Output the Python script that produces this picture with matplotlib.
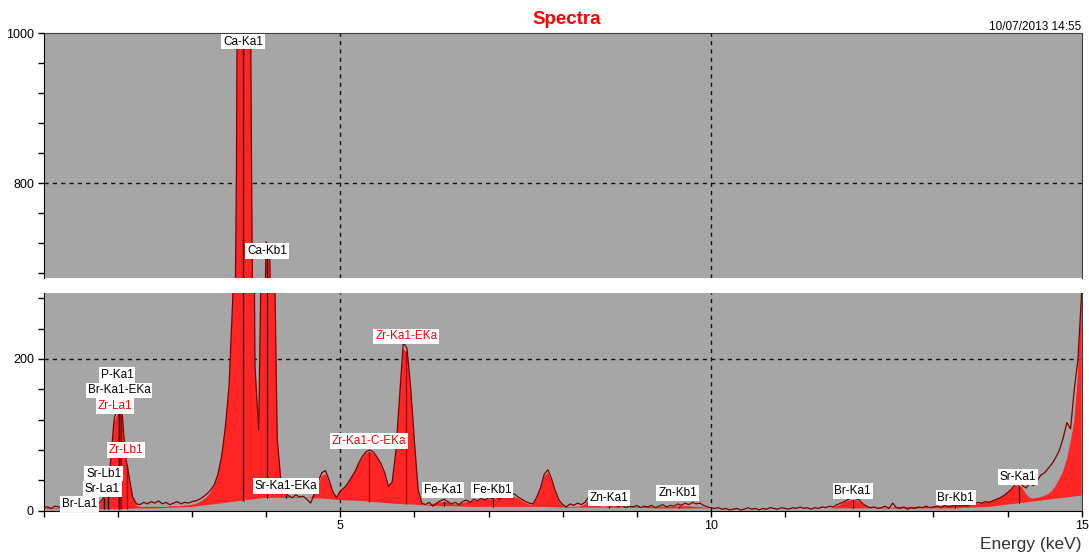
import numpy as np
import matplotlib
matplotlib.use('Agg')
import matplotlib.pyplot as plt
from matplotlib.ticker import MultipleLocator, FixedLocator, NullLocator

plt.rcParams['font.family'] = ['Liberation Sans', 'DejaVu Sans']

# ---------------- data ----------------
energy_start = 1.0     # keV, first channel
energy_step = 0.05     # keV per channel

# measured spectrum (counts), 1.00 .. 15.00 keV
counts = (
    [4, 5, 3, 6, 5, 4, 7, 5, 6, 8, 6, 7, 9, 7, 8, 10, 16, 26, 62, 121] +
    [138, 140, 74, 46, 18, 9, 8, 11, 9, 12, 10, 13, 9, 11, 8, 10, 12, 9, 11, 10] +
    [12, 13, 15, 18, 22, 27, 34, 48, 72, 110, 165, 280, 820, 2000, 2600, 1800, 870, 190, 106, 450] +
    [722, 700, 420, 95, 38, 24, 20, 17, 21, 18, 19, 15, 10, 22, 38, 50, 53, 40, 25, 17] +
    [26, 30, 36, 44, 52, 63, 72, 78, 80, 77, 70, 62, 50, 32, 38, 79, 150, 222, 214, 162] +
    [92, 28, 10, 8, 11, 6, 10, 13, 15, 12, 9, 11, 8, 12, 14, 11, 15, 13, 16, 14] +
    [17, 16, 18, 15, 19, 17, 21, 22, 18, 15, 12, 10, 9, 18, 30, 48, 54, 42, 26, 14] +
    [8, 5, 9, 7, 10, 8, 11, 18, 24, 12, 8, 7, 9, 6, 8, 5, 7, 4, 6, 5] +
    [7, 4, 6, 5, 7, 4, 6, 8, 5, 7, 6, 9, 7, 10, 8, 11, 9, 10, 7, 5] +
    [4, 3, 4, 2, 3, 1, 2, 3, 1, 2, 4, 2, 3, 1, 3, 2, 4, 3, 2, 4] +
    [3, 2, 4, 3, 5, 3, 4, 2, 4, 3, 5, 4, 6, 5, 8, 10, 12, 15, 17, 16] +
    [14, 9, 6, 4, 5, 3, 4, 6, 3, 10, 4, 3, 5, 2, 4, 3, 5, 4, 6, 4] +
    [5, 6, 4, 7, 5, 6, 8, 6, 7, 6, 8, 9, 11, 10, 12, 11, 13, 15, 17, 20] +
    [24, 28, 34, 39, 33, 30, 36, 33, 40, 47, 50, 56, 62, 70, 80, 96, 116, 108, 160, 200] +
    [290]
)

# fitted spectrum (counts), same channels
fit_counts = (
    [3, 3, 3, 3, 3, 3, 4, 4, 5, 5, 4, 4, 4, 4, 5, 7, 15, 24, 58, 116] +
    [129, 127, 72, 44, 17, 7, 5, 5, 5, 5, 5, 5, 5, 5, 6, 6, 6, 6, 7, 7] +
    [8, 9, 11, 14, 18, 24, 32, 46, 70, 108, 160, 275, 800, 2000, 2500, 1800, 860, 190, 108, 440] +
    [705, 695, 410, 95, 36, 22, 19, 18, 18, 18, 17, 17, 17, 22, 34, 46, 48, 38, 24, 19] +
    [24, 30, 36, 44, 52, 62, 70, 76, 78, 75, 69, 60, 48, 34, 38, 76, 146, 214, 208, 158] +
    [88, 26, 9, 7, 8, 9, 10, 11, 12, 11, 9, 8, 9, 10, 11, 12, 13, 13, 14, 14] +
    [15, 15, 16, 16, 17, 17, 18, 18, 16, 13, 10, 8, 8, 16, 28, 45, 50, 40, 24, 12] +
    [6, 5, 5, 5, 5, 6, 8, 14, 16, 9, 6, 5, 6, 6, 6, 5, 5, 5, 5, 5] +
    [5, 5, 5, 5, 5, 5, 5, 5, 5, 5, 5, 6, 6, 6, 6, 5, 5, 5, 4, 4] +
    [3, 3, 3, 3, 3, 3, 3, 3, 3, 3, 3, 3, 3, 3, 3, 3, 3, 3, 3, 3] +
    [3, 3, 3, 3, 3, 3, 3, 3, 3, 3, 3, 3, 3, 4, 6, 8, 11, 13, 14, 14] +
    [12, 8, 5, 4, 3, 4, 4, 4, 4, 4, 5, 5, 5, 5, 5, 5, 5, 5, 5, 5] +
    [5, 6, 6, 6, 7, 7, 7, 7, 7, 7, 7, 8, 9, 10, 11, 12, 13, 15, 17, 20] +
    [24, 28, 32, 34, 30, 22, 17, 16, 17, 18, 20, 22, 26, 33, 42, 52, 68, 90, 118, 180] +
    [290]
)

# background (counts) every 0.25 keV, 1.00 .. 15.00 keV
bg_step = 0.25
background = [2, 2, 2, 2, 2, 3, 3, 4, 5, 8, 11, 14, 17, 17, 17, 16, 14, 13, 11, 9,
              8, 6, 6, 5, 5, 5, 5, 5, 4, 4, 4, 4, 4, 3, 3, 3, 3, 3, 3, 3,
              3, 3, 3, 3, 3, 3, 3, 3, 3, 3, 4, 5, 8, 11, 14, 17, 20]

# identified lines
line_names = ["Br-La1", "Sr-La1", "Sr-Lb1", "P-Ka1", "Br-Ka1-EKa", "Zr-La1", "Zr-Lb1",
              "Ca-Ka1", "Ca-Kb1", "Sr-Ka1-EKa", "Zr-Ka1-C-EKa", "Zr-Ka1-EKa",
              "Fe-Ka1", "Fe-Kb1", "Zn-Ka1", "Zn-Kb1", "Br-Ka1", "Br-Kb1", "Sr-Ka1"]
line_energies = [1.48, 1.81, 1.87, 2.01, 2.02, 2.04, 2.12,
                 3.69, 4.01, 4.27, 5.39, 5.88,
                 6.40, 7.06, 8.63, 9.57, 11.92, 13.29, 14.16]
label_counts = [8.8, 28.6, 49, 179, 158.5, 138, 80,
                989, 710, 32.6, 92, 229.7,
                27.3, 27.3, 16.7, 23.3, 26, 17.4, 44.4]
label_x = [1.48, 1.79, 1.81, 1.99, 2.02, 1.96, 2.11,
           3.69, 4.01, 4.27, 5.39, 5.89,
           6.39, 7.05, 8.62, 9.55, 11.91, 13.30, 14.14]
zr_lines = {"Zr-La1", "Zr-Lb1", "Zr-Ka1-C-EKa", "Zr-Ka1-EKa"}

# ---------------- derived ----------------
counts = np.asarray(counts, float)
fit_counts = np.asarray(fit_counts, float)
background = np.asarray(background, float)
assert len(counts) == len(fit_counts) == 281, (len(counts), len(fit_counts))
energy = energy_start + energy_step * np.arange(len(counts))
bg_energy = energy_start + bg_step * np.arange(len(background))

poly_x = np.concatenate([energy, bg_energy[::-1]])
poly_y = np.concatenate([fit_counts, background[::-1]])

line_bottom = np.interp(line_energies, bg_energy, background)
line_top = np.interp(line_energies, energy, fit_counts)

# ---------------- figure ----------------
W, H = 1089, 556
fig = plt.figure(figsize=(W / 100, H / 100), dpi=100)
left = 43.7 / W
width = (1081.7 - 43.7) / W
ax_top = fig.add_axes([left, (H - 278.3) / H, width, (278.3 - 33.3) / H])
ax_bot = fig.add_axes([left, (H - 510.7) / H, width, (510.7 - 292.7) / H])

FACE = '#A6A6A6'
FILL = '#FF2525'
LINE = '#7A0000'
grid_kw = dict(color='#111111', lw=1.0, ls=(0, (3, 3)), zorder=1)

for ax in (ax_top, ax_bot):
    ax.set_facecolor(FACE)
    ax.fill(poly_x, poly_y, color=FILL, lw=0, zorder=2)
    cols = ['#B00000' if n in zr_lines else 'black' for n in line_names]
    ax.vlines(line_energies, line_bottom, line_top, colors=cols, lw=1.0, zorder=3)
    ax.plot(energy, counts, color=LINE, lw=0.9, zorder=4)
    ax.set_xlim(1, 15)
    for xv in (5, 10):
        ax.axvline(xv, **grid_kw)
    ax.spines['left'].set_color('black')
    ax.spines['right'].set_color('#404040')
    ax.spines['top'].set_color('#404040')
    ax.spines['bottom'].set_color('black')
    ax.tick_params(axis='y', which='both', direction='out', length=4, width=1,
                   labelsize=9, pad=3, colors='black')

ax_top.set_ylim(673.3, 1000)
ax_bot.set_ylim(0, 287.4)
ax_top.axhline(800, **grid_kw)
ax_bot.axhline(200, **grid_kw)

ax_top.spines['bottom'].set_visible(False)
ax_bot.spines['top'].set_visible(False)

ax_top.yaxis.set_major_locator(FixedLocator([800, 1000]))
ax_top.yaxis.set_minor_locator(MultipleLocator(40))
ax_bot.yaxis.set_major_locator(FixedLocator([0, 200]))
ax_bot.yaxis.set_minor_locator(MultipleLocator(40))

ax_top.xaxis.set_major_locator(NullLocator())
ax_top.xaxis.set_minor_locator(NullLocator())
ax_bot.xaxis.set_major_locator(FixedLocator([5, 10, 15]))
ax_bot.xaxis.set_minor_locator(MultipleLocator(1))
ax_bot.tick_params(axis='x', which='both', direction='out', length=4, width=1,
                   labelsize=9, pad=3)

# peak labels
for name, xl, yl in zip(line_names, label_x, label_counts):
    ax = ax_top if yl > 500 else ax_bot
    ax.text(xl, yl, name, ha='center', va='center', fontsize=8.5,
            color='#FF0000' if name in zr_lines else 'black', zorder=6,
            bbox=dict(boxstyle='square,pad=0.15', fc='white', ec='none'),
            clip_on=False)

fig.text(567 / W, 1 - 20 / H, "Spectra", color='#FF0000', fontsize=13.5,
         fontweight='bold', ha='center', va='center')
fig.text(1081.7 / W, 1 - 27 / H, "10/07/2013 14:55", ha='right', va='center',
         fontsize=8.5, color='black')
fig.text(1081 / W, 1 - 545 / H, "Energy (keV)", ha='right', va='center',
         fontsize=12.5, color='#333333')

fig.savefig('out.png', dpi=100)
